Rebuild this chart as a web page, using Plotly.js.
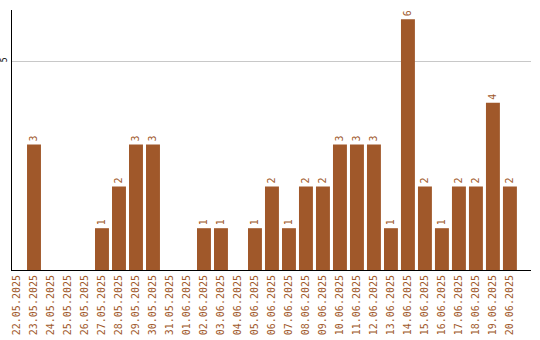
<!DOCTYPE html>
<html><head><meta charset="utf-8">
<script src="https://cdn.plot.ly/plotly-3.0.1.min.js"></script>
<style>html,body{margin:0;padding:0;background:#fff}#chart{width:540px;height:340px}</style>
</head><body><div id="chart"></div>
<script>
const dates = ["22.05.2025","23.05.2025","24.05.2025","25.05.2025","26.05.2025","27.05.2025","28.05.2025","29.05.2025","30.05.2025","31.05.2025","01.06.2025","02.06.2025","03.06.2025","04.06.2025","05.06.2025","06.06.2025","07.06.2025","08.06.2025","09.06.2025","10.06.2025","11.06.2025","12.06.2025","13.06.2025","14.06.2025","15.06.2025","16.06.2025","17.06.2025","18.06.2025","19.06.2025","20.06.2025"];
const counts = [0,3,0,0,0,1,2,3,3,0,0,1,1,0,1,2,1,2,2,3,3,3,1,6,2,1,2,2,4,2];
const labels = counts.map(v => v > 0 ? String(v) : "");
const color = "#a0582a";
Plotly.newPlot("chart", [{
  type: "bar", x: dates, y: counts, text: labels,
  textposition: "outside", textangle: -90, cliponaxis: false,
  textfont: {family: "DejaVu Sans Mono", size: 10, color: color},
  marker: {color: color}, hoverinfo: "none"
}], {
  width: 540, height: 340,
  margin: {l: 12, r: 9, t: 10, b: 70},
  paper_bgcolor: "#fff", plot_bgcolor: "#fff",
  bargap: 0.18, showlegend: false,
  font: {family: "DejaVu Sans Mono", size: 10, color: "#000"},
  xaxis: {type: "category", range: [-0.294, 30.24], tickangle: -90,
    tickfont: {family: "DejaVu Sans Mono", size: 10, color: color},
    showline: true, linecolor: "#000", linewidth: 1, ticks: "", showgrid: false, fixedrange: true},
  yaxis: {range: [0, 6.22], tickangle: -90, showline: true, linecolor: "#000", linewidth: 1,
    gridcolor: "#c8c8c8", zeroline: false, ticks: "", showticklabels: true, ticklabelstandoff: 1,
    tickfont: {family: "DejaVu Sans Mono", size: 8, color: "#000"}, tickvals: [5], ticktext: ["5"]}
}, {staticPlot: true});
</script></body></html>
